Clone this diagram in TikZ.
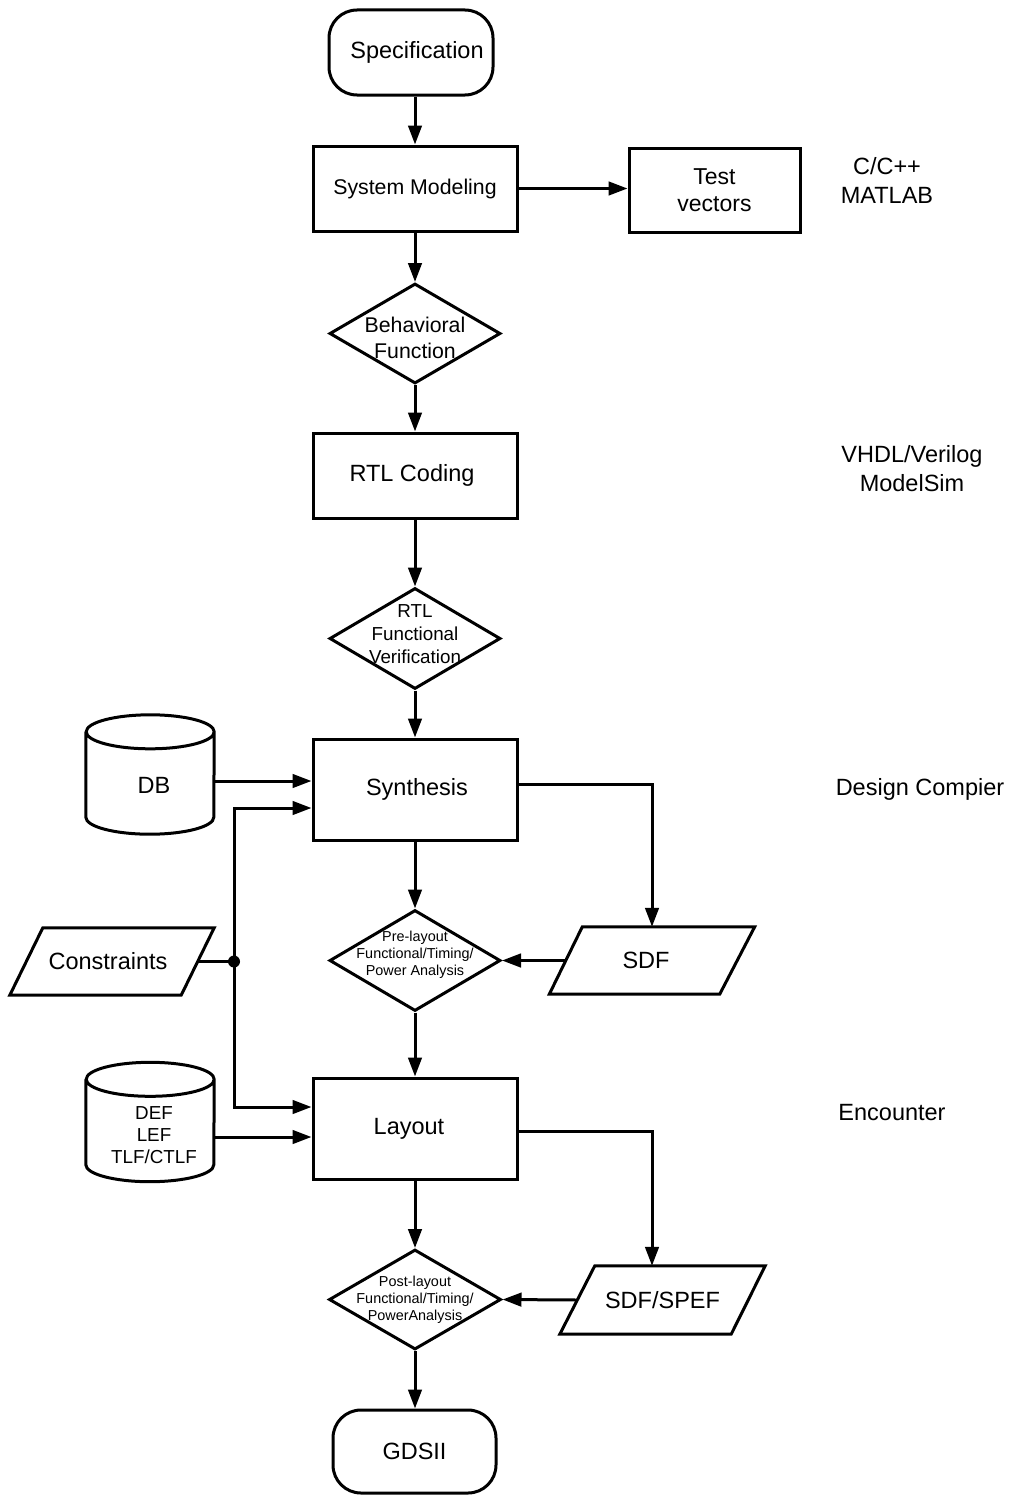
\documentclass[tikz,border=0pt]{standalone}
\usepackage{fontspec}
\setmainfont{Liberation Sans}
\usetikzlibrary{shapes.geometric,arrows.meta,calc}

\tikzset{
  fbig/.style={font=\fontsize{23.5pt}{29pt}\selectfont},
  fmid/.style={font=\fontsize{21.3pt}{26pt}\selectfont},
  fsmall/.style={font=\fontsize{18.8pt}{23pt}\selectfont},
  ftiny/.style={font=\fontsize{14.4pt}{17pt}\selectfont},
  outline/.style={draw, line width=3pt, line join=miter},
  procbox/.style={outline, rectangle, minimum width=204pt, inner sep=0pt},
  termbox/.style={outline, rectangle, rounded corners=28pt, inner sep=0pt, fbig},
  decision/.style={outline, diamond, inner sep=0pt, minimum width=171pt, minimum height=100pt},
  databox/.style={rectangle, inner sep=0pt, minimum width=128pt, minimum height=119pt},
  iobox/.style={rectangle, inner sep=0pt, minimum height=67pt},
  flow/.style={line width=3pt, -{Triangle[length=19pt,width=13.5pt]}},
  wire/.style={line width=3pt},
}

\begin{document}
\begin{tikzpicture}[x=1pt, y=1pt]
\useasboundingbox (0,0) rectangle (1013,-1496);

% main flow
\node[termbox, minimum width=164pt, minimum height=85pt] (spec) at (411,-52.5) {\hspace*{12pt}Specification};
\node[procbox, minimum height=85pt, fmid] (sys) at (415,-188.5) {System Modeling};
\node[outline, rectangle, minimum width=171pt, minimum height=84pt, inner sep=0pt, align=center, font=\fontsize{23pt}{27.5pt}\selectfont] (test) at (714.5,-190) {Test\\vectors};
\node[decision] (behav) at (415,-333.5) {};
\node[fmid, align=center] (behavT) at (415,-338) {Behavioral\\Function};
\node[procbox, minimum height=85pt, fbig] (rtl) at (415,-475.5) {RTL Coding\hspace*{6pt}};
\node[decision, minimum height=101pt] (rtlfv) at (415,-638.5) {};
\node[fsmall, align=center] (rtlfvT) at (415,-634) {RTL\\Functional\\Verification};
\node[procbox, minimum height=101pt, fbig] (syn) at (415,-789.5) {\hspace*{4pt}Synthesis};
\node[decision, minimum height=101pt] (pre) at (415,-960.5) {};
\node[ftiny, align=center] (preT) at (415,-955) {Pre-layout\\Functional/Timing/\\Power Analysis};
\node[procbox, minimum height=101pt, fbig] (lay) at (415,-1128.5) {Layout\hspace*{12pt}};
\node[decision, minimum width=172pt] (post) at (415,-1299.5) {};
\node[ftiny, align=center] (postT) at (415,-1300) {Post-layout\\Functional/Timing/\\PowerAnalysis};
\node[termbox, minimum width=163pt, minimum height=83pt] (gds) at (414.5,-1451.5) {GDSII};

% libraries (cylinders)
\node[databox] (db) at (150,-774.5) {};
\node[databox] (deflef) at (150,-1122) {};
\foreach \c in {db,deflef}{
  \draw[wire] ([yshift=-17pt]\c.north west) -- ([yshift=17pt]\c.south west)
    arc[start angle=180, end angle=360, x radius=64pt, y radius=17pt]
    -- ([yshift=-17pt]\c.north east)
    arc[start angle=0, end angle=360, x radius=64pt, y radius=17pt];
}
\node[fbig] (dbT) at (154,-785) {DB};
\node[align=center, font=\fontsize{18.8pt}{22pt}\selectfont] (deflefT) at (154,-1135) {DEF\\LEF\\TLF/CTLF};

% input / output data (parallelograms)
\node[iobox, minimum width=204pt, fbig] (cons) at (112,-961.5) {Constraints\hspace*{8pt}};
\node[iobox, minimum width=205pt, fbig] (sdf) at (652,-960.5) {SDF\hspace*{12pt}};
\node[iobox, minimum width=205pt, minimum height=68pt, fbig] (spef) at (662.5,-1300) {SDF/SPEF};
\draw[wire] ([xshift=33pt]cons.north west) -- (cons.north east) -- ([xshift=-33pt]cons.south east) -- (cons.south west) -- cycle;
\draw[wire] ([xshift=33pt]sdf.north west) -- (sdf.north east) -- ([xshift=-35pt]sdf.south east) -- (sdf.south west) -- cycle;
\draw[wire] ([xshift=35pt]spef.north west) -- (spef.north east) -- ([xshift=-34pt]spef.south east) -- (spef.south west) -- cycle;

% tool names
\node[fbig, align=center] (tc) at (887,-180) {C/C++\\MATLAB};
\node[fbig, align=center] (thdl) at (912,-469) {VHDL/Verilog\\ModelSim};
\node[fbig] (tdc) at (920,-789) {Design Compier};
\node[fbig] (tenc) at (892,-1113) {Encounter};

% connectors along the main flow
\draw[flow] (spec.south -| sys.north) -- (sys.north);
\draw[flow] (sys.east) -- (sys.east -| test.west);
\draw[flow] (sys.south) -- (behav.north);
\draw[flow] (behav.south) -- (rtl.north);
\draw[flow] (rtl.south) -- (rtlfv.north);
\draw[flow] (rtlfv.south) -- (syn.north);
\draw[flow] (syn.south) -- (pre.north);
\draw[flow] (pre.south) -- (lay.north);
\draw[flow] (lay.south) -- (post.north);
\draw[flow] (post.south) -- (post.south |- gds.north);

% side inputs
\coordinate (j) at (234,-961.5);
\draw[flow] ([yshift=-6.5pt]db.east) -- ([yshift=-6.5pt]db.east -| syn.west);
\draw[wire] ([xshift=-16.5pt]cons.east) -- (j);
\draw[flow] (j) |- ([yshift=-18.5pt]syn.west);
\draw[flow] (j) |- ([yshift=21.5pt]lay.west);
\fill (j) circle (6pt);
\draw[flow] ([yshift=-15pt]deflef.east) -- ([yshift=-15pt]deflef.east -| lay.west);

% timing data back into the analyses
\draw[flow] ([yshift=5.5pt]syn.east) -| (sdf.north);
\draw[flow] ([xshift=16.5pt]sdf.west) -- (pre.east);
\draw[flow] ([yshift=-2.5pt]lay.east) -| ([xshift=-10.5pt]spef.north);
\draw[flow] ([xshift=17.5pt]spef.west) -- (post.east);
\end{tikzpicture}
\end{document}
